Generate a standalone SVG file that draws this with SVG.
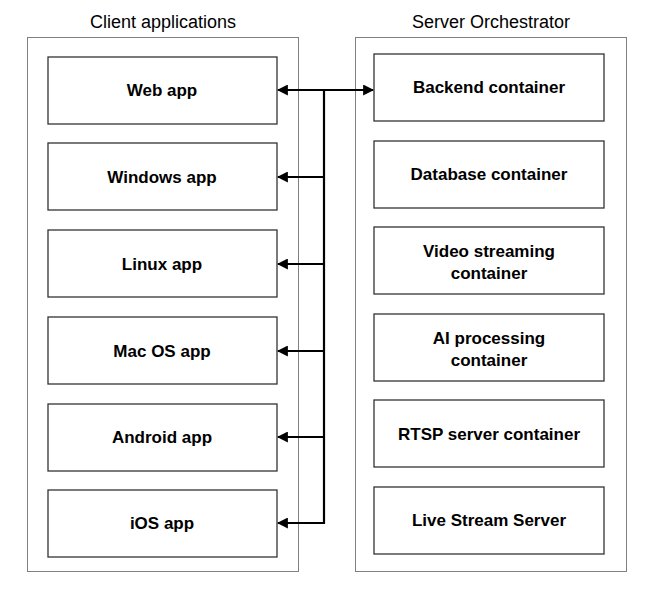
<svg xmlns="http://www.w3.org/2000/svg" width="660" height="599" viewBox="0 0 660 599">
<style>
.grp{fill:none;stroke:#000;stroke-width:1;stroke-dasharray:1 1}
.box{fill:#fff;stroke:#333;stroke-width:1.3}
.t{font-family:"Liberation Sans",Arial,sans-serif;font-size:17px;font-weight:bold;text-anchor:middle;fill:#000}
.h{font-family:"Liberation Sans",Arial,sans-serif;font-size:18px;text-anchor:middle;fill:#000}
.c{stroke:#000;stroke-width:2.2;fill:none}
</style>
<defs><marker id="a" viewBox="0 0 10 10" refX="9" refY="5" markerWidth="5" markerHeight="5" orient="auto-start-reverse"><path d="M0,0L10,5L0,10z" fill="#000"/></marker></defs>
<rect class="grp" x="27.5" y="37.5" width="271" height="534"/>
<rect class="grp" x="355.5" y="37.5" width="271" height="534"/>
<text class="h" x="163" y="28">Client applications</text>
<text class="h" x="491" y="28">Server Orchestrator</text>
<g id="web"><rect class="box" x="48" y="57" width="229" height="67"/><text class="t" x="162" y="96">Web app</text></g>
<g id="windows"><rect class="box" x="48" y="143" width="229" height="67"/><text class="t" x="162" y="183">Windows app</text></g>
<g id="linux"><rect class="box" x="48" y="230" width="229" height="67"/><text class="t" x="162" y="270">Linux app</text></g>
<g id="mac"><rect class="box" x="48" y="317" width="229" height="67"/><text class="t" x="162" y="357">Mac OS app</text></g>
<g id="android"><rect class="box" x="48" y="404" width="229" height="67"/><text class="t" x="162" y="443">Android app</text></g>
<g id="ios"><rect class="box" x="48" y="490" width="229" height="67"/><text class="t" x="162" y="529">iOS app</text></g>
<g id="backend"><rect class="box" x="374" y="54" width="230" height="67"/><text class="t" x="489" y="93">Backend container</text></g>
<g id="database"><rect class="box" x="374" y="141" width="230" height="67"/><text class="t" x="489" y="180">Database container</text></g>
<g id="video"><rect class="box" x="374" y="227" width="230" height="67"/><text class="t" x="489" y="257">Video streaming</text><text class="t" x="489" y="279">container</text></g>
<g id="ai"><rect class="box" x="374" y="314" width="230" height="67"/><text class="t" x="489" y="344">AI processing</text><text class="t" x="489" y="366">container</text></g>
<g id="rtsp"><rect class="box" x="374" y="400" width="230" height="67"/><text class="t" x="489" y="440">RTSP server container</text></g>
<g id="live"><rect class="box" x="374" y="487" width="230" height="67"/><text class="t" x="489" y="526">Live Stream Server</text></g>
<g id="connectors">
<path class="c" d="M324,90V524"/>
<path class="c" d="M324,90H278" marker-end="url(#a)"/>
<path class="c" d="M324,90H373" marker-end="url(#a)"/>
<path class="c" d="M324,177H278" marker-end="url(#a)"/>
<path class="c" d="M324,264H278" marker-end="url(#a)"/>
<path class="c" d="M324,351H278" marker-end="url(#a)"/>
<path class="c" d="M324,437H278" marker-end="url(#a)"/>
<path class="c" d="M324,523H278" marker-end="url(#a)"/>
</g>
</svg>
